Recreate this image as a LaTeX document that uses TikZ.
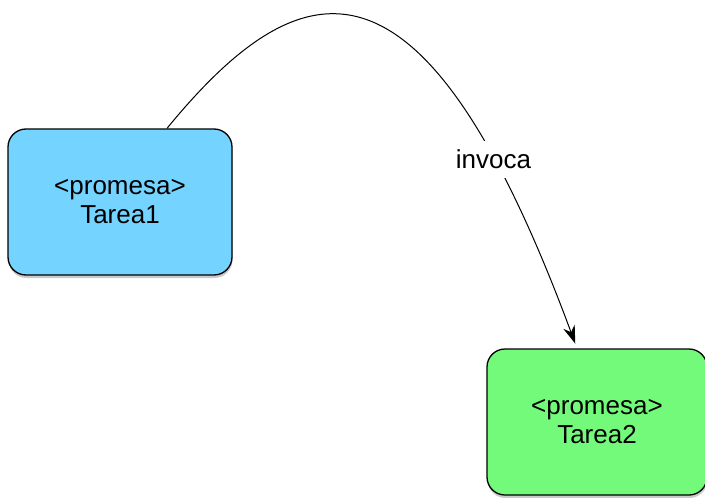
\documentclass[tikz,border=0pt]{standalone}
\usepackage{fontspec}
\setmainfont{Liberation Sans}
\usepackage{tikz}
\usetikzlibrary{arrows.meta,shadows}
\definecolor{tareaBlue}{HTML}{74D3FF}
\definecolor{tareaGreen}{HTML}{74FA7A}

\begin{document}
\begin{tikzpicture}[x=1pt,y=-1pt,font=\fontsize{26}{29}\selectfont,
  promesa/.style={draw=black,line width=1.3pt,rounded corners=18pt,align=center,
    minimum width=224pt,minimum height=146pt,
    drop shadow={shadow xshift=0.5pt,shadow yshift=-3pt,opacity=0.35,fill=black!60}}]
\useasboundingbox (0,0) rectangle (705,498);
\node[promesa,fill=tareaBlue] (tarea1) at (120,202) {<promesa>\\Tarea1};
\node[promesa,fill=tareaGreen,minimum width=220pt] (tarea2) at (597,422) {<promesa>\\Tarea2};
% arco de llamada, roto por la etiqueta
\draw[line width=1pt,-{Stealth[length=18pt,width=12pt]},shorten >=5pt]
  ([xshift=47pt]tarea1.north) .. controls (305,-40) and (425,-62) .. ([xshift=-20pt]tarea2.north)
  node[pos=0.81,fill=white,inner sep=9pt] (invoca) {invoca};
\end{tikzpicture}
\end{document}
